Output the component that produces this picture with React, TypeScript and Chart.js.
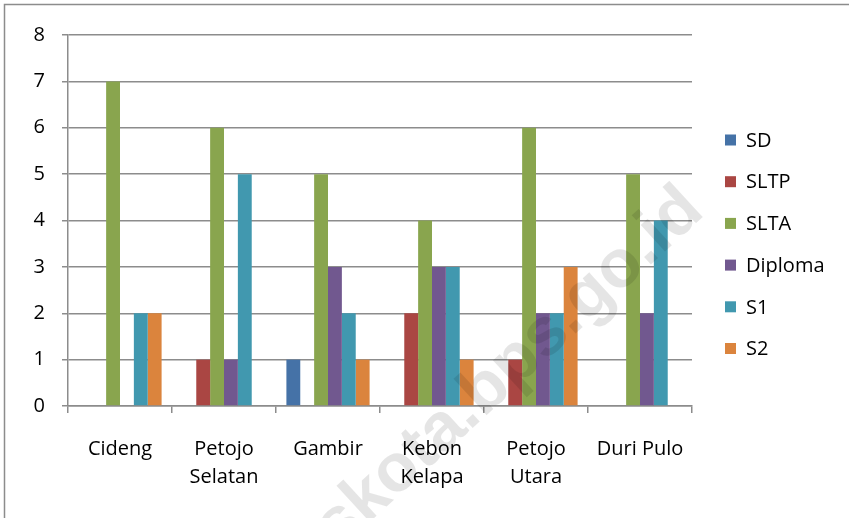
import React, { useEffect, useRef } from "react";
import { Chart, registerables } from "chart.js";

Chart.register(...registerables);

const categories: (string | string[])[] = [
  "Cideng",
  ["Petojo", "Selatan"],
  "Gambir",
  ["Kebon", "Kelapa"],
  ["Petojo", "Utara"],
  "Duri Pulo",
];

const seriesNames = ["SD", "SLTP", "SLTA", "Diploma", "S1", "S2"];
const sdValues = [0, 0, 1, 0, 0, 0];
const sltpValues = [0, 1, 0, 2, 1, 0];
const sltaValues = [7, 6, 5, 4, 6, 5];
const diplomaValues = [0, 1, 3, 3, 2, 2];
const s1Values = [2, 5, 2, 3, 2, 4];
const s2Values = [2, 0, 1, 1, 3, 0];
const seriesColors = ["#4572A7", "#AA4643", "#89A54E", "#71588F", "#4198AF", "#DB843D"];
const yTicks = [0, 1, 2, 3, 4, 5, 6, 7, 8];
const watermark = "jakpuskota.bps.go.id";

const FONT = "'Open Sans', 'Noto Sans', sans-serif";

export default function App() {
  const ref = useRef<HTMLCanvasElement | null>(null);

  useEffect(() => {
    if (!ref.current) return;
    const allValues = [sdValues, sltpValues, sltaValues, diplomaValues, s1Values, s2Values];

    const framePlugin = {
      id: "frame",
      beforeDraw(chart: any) {
        const ctx = chart.ctx;
        ctx.save();
        ctx.fillStyle = "#ffffff";
        ctx.fillRect(0, 0, chart.width, chart.height);
        ctx.strokeStyle = "#8c8c8c";
        ctx.lineWidth = 1.5;
        ctx.strokeRect(4.5, 4.5, chart.width + 20, chart.height + 20);
        ctx.restore();
      },
    };

    const legendPlugin = {
      id: "customLegend",
      afterDraw(chart: any) {
        const ctx = chart.ctx;
        ctx.save();
        ctx.font = `20px ${FONT}`;
        ctx.textBaseline = "middle";
        ctx.textAlign = "left";
        chart.data.datasets.forEach((ds: any, i: number) => {
          const yc = 140 + i * 41.7;
          ctx.fillStyle = ds.backgroundColor;
          ctx.fillRect(725, yc - 5.5, 11, 11);
          ctx.fillStyle = "#000000";
          ctx.fillText(ds.label, 746, yc + 1);
        });
        ctx.restore();
      },
    };

    const watermarkPlugin = {
      id: "watermark",
      afterDraw(chart: any) {
        const ctx = chart.ctx;
        ctx.save();
        ctx.translate(706, 214);
        ctx.rotate((-42.5 * Math.PI) / 180);
        ctx.font = `bold 68px 'Liberation Sans', Arial, sans-serif`;
        ctx.textAlign = "right";
        ctx.textBaseline = "alphabetic";
        ctx.fillStyle = "rgba(0,0,0,0.1)";
        ctx.fillText(watermark, 0, 0);
        ctx.restore();
      },
    };

    const chart = new Chart(ref.current, {
      type: "bar",
      data: {
        labels: categories,
        datasets: seriesNames.map((name, i) => ({
          label: name,
          data: allValues[i],
          backgroundColor: seriesColors[i],
          borderWidth: 0,
          categoryPercentage: 0.8,
          barPercentage: 1.0,
        })),
      },
      options: {
        animation: false,
        responsive: true,
        maintainAspectRatio: false,
        layout: { padding: { left: 0, top: 35, right: 157, bottom: 0 } },
        plugins: {
          legend: { display: false },
          tooltip: { enabled: false },
        },
        scales: {
          x: {
            afterFit: (s: any) => {
              s.height = 112;
            },
            grid: {
              display: true,
              drawOnChartArea: false,
              drawTicks: true,
              tickLength: 7,
              color: "#8c8c8c",
              lineWidth: 1.5,
              offset: true,
            },
            border: { display: true, color: "#8c8c8c", width: 1.5 },
            ticks: {
              color: "#000000",
              font: { family: FONT, size: 20, lineHeight: 1.4 },
              padding: 22,
              maxRotation: 0,
              autoSkip: false,
            },
          },
          y: {
            min: 0,
            max: 8,
            afterFit: (s: any) => {
              s.width = 68;
            },
            afterBuildTicks: (s: any) => {
              s.ticks = yTicks.map((v) => ({ value: v }));
            },
            grid: {
              color: "#8c8c8c",
              lineWidth: 1.5,
              drawTicks: true,
              tickLength: 6,
            },
            border: { display: true, color: "#8c8c8c", width: 1.5 },
            ticks: {
              color: "#000000",
              font: { family: FONT, size: 20 },
              padding: 17,
              stepSize: 1,
            },
          },
        },
      },
      plugins: [framePlugin, legendPlugin, watermarkPlugin],
    });

    return () => chart.destroy();
  }, []);

  return (
    <div style={{ position: "absolute", left: 0, top: 0, width: 849, height: 518 }}>
      <canvas ref={ref} />
    </div>
  );
}
